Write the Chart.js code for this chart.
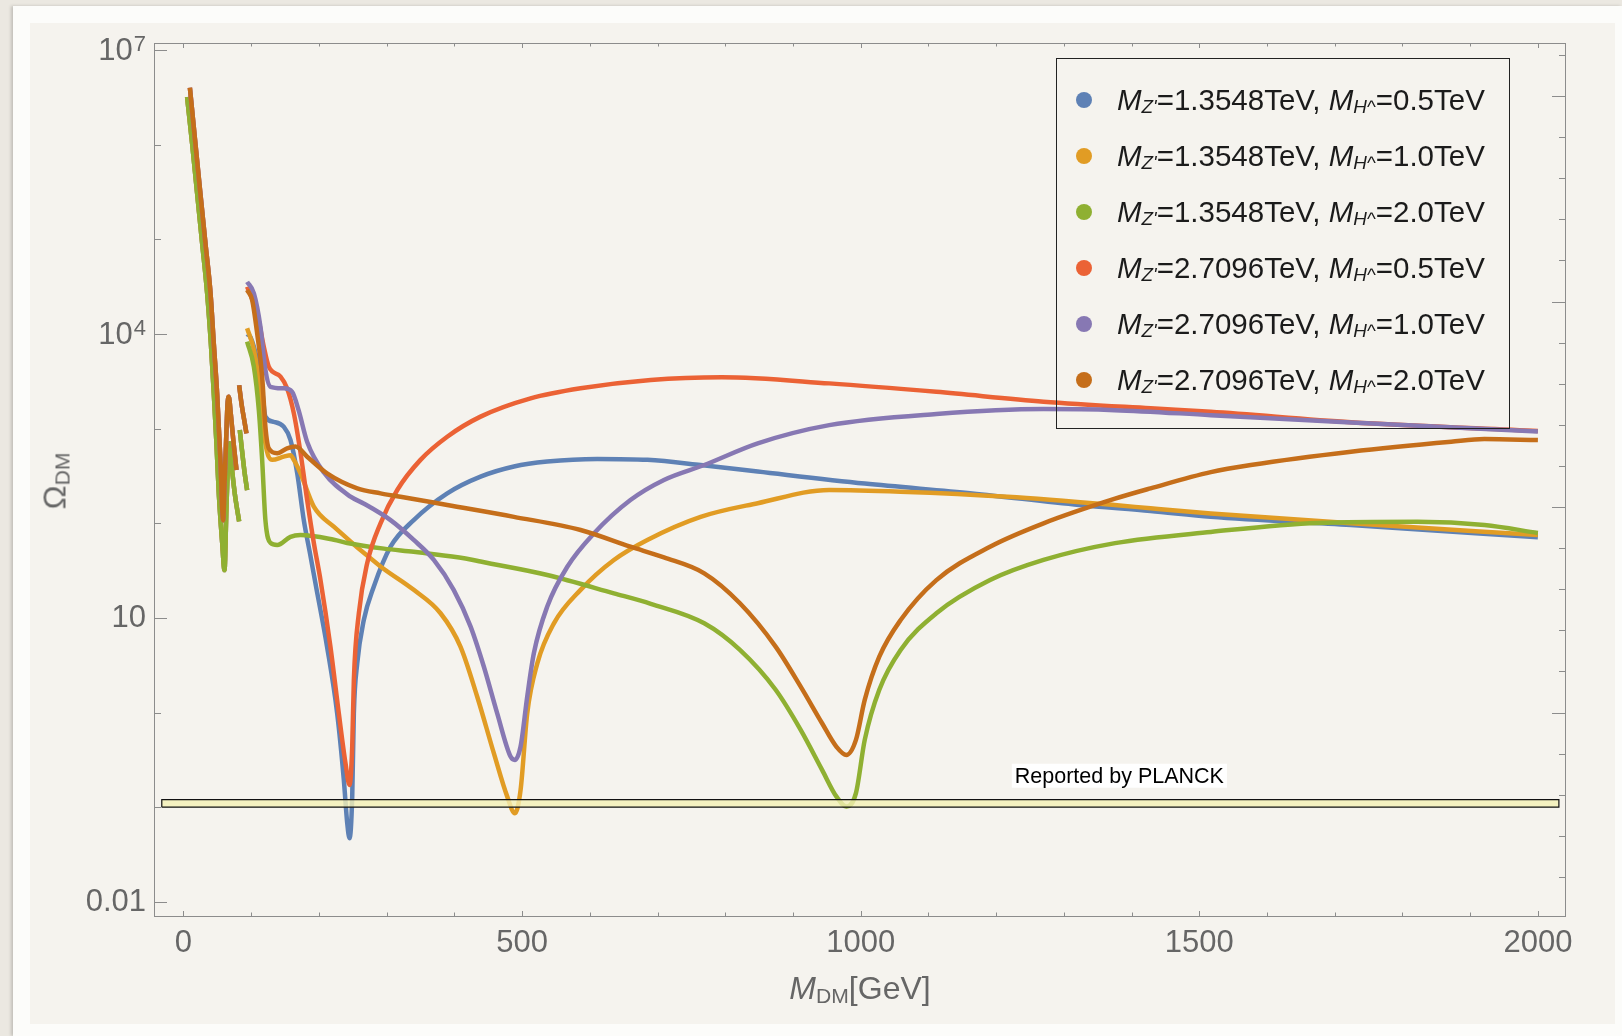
<!DOCTYPE html>
<html lang="en">
<head>
  <meta charset="UTF-8" />
  <title>Relic density vs dark matter mass</title>
  <script src="https://cdn.jsdelivr.net/npm/chart.js"></script>
  <style>
    html, body { margin: 0; padding: 0; }
    body {
      width: 1622px;
      height: 1036px;
      position: relative;
      overflow: hidden;
      background: #ebe8e1;
      font-family: "Liberation Sans", Arial, sans-serif;
    }
    .sheet {
      position: absolute;
      left: 13px; top: 6px; right: 0; bottom: 0;
      background: #fcfcfa;
      box-shadow: -2px 0 3px rgba(0,0,0,0.18);
    }
    .panel {
      position: absolute;
      left: 30px; top: 23px;
      width: 1585px; height: 1001px;
      background: #f5f3ee;
    }
    #chart { position: absolute; left: 0; top: 0; }
    .sb { font-size: 0.66em; position: relative; top: 0.18em; }
    .xtitle {
      position: absolute;
      left: 710px; width: 300px; top: 970px;
      text-align: center;
      color: #666;
      font-size: 32px;
      white-space: nowrap;
    }
    .ytitle {
      position: absolute;
      left: 55px; top: 481px;
      transform: translate(-50%, -50%) rotate(-90deg);
      color: #666;
      font-size: 32px;
      white-space: nowrap;
    }
    #legend {
      position: absolute;
      left: 1056px; top: 58px;
      width: 454px; height: 371px;
      box-sizing: border-box;
      border: 1px solid #222;
    }
    #legend .row { position: absolute; left: 0; height: 56px; width: 100%; }
    #legend .dot {
      position: absolute; left: 19px; top: 20px;
      width: 16px; height: 16px; border-radius: 50%;
    }
    #legend .txt {
      position: absolute; left: 60px; top: 0;
      line-height: 56px;
      font-size: 29.5px;
      color: #1b1b1b;
      white-space: nowrap;
    }
    #legend .txt .sb { font-size: 0.64em; top: 0.16em; }
  </style>
</head>
<body>
  <div class="sheet"></div>
  <div class="panel"></div>
  <canvas id="chart" width="1622" height="1036"></canvas>
  <div class="ytitle">Ω<span class="sb">DM</span></div>
  <div class="xtitle"><i>M</i><span class="sb">DM</span>[GeV]</div>
  <div id="legend"></div>

  <script>
    // legend parameters (Z' mass, H^ mass in TeV)
    const mzValues = ['1.3548', '1.3548', '1.3548', '2.7096', '2.7096', '2.7096'];
    const mhValues = ['0.5', '1.0', '2.0', '0.5', '1.0', '2.0'];
    const colors = ['#5e81b5', '#e19c24', '#8fb032', '#eb6235', '#8778b3', '#c56e1a'];

    // low-mass part, shared by the lighter Z' curves (drawn under the green one)
    const lowLight = [
      [5.4, 3.2e6], [12.8, 1.03e6], [20.2, 3.06e5], [27.6, 9.1e4], [35, 2.69e4], [40.5, 7.9e3],
      [44.8, 2360], [48.7, 700], [52.2, 207], [57.2, 62], [60.6, 32], [63.5, 150], [66, 450],
      [68.4, 700], [72, 355], [76, 200], [82.2, 105], [82.7, null],
      [83.2, 968], [86, 630], [90, 355], [94, 224], [94.2, null]
    ];
    // low-mass part, shared by the heavier Z' curves (drawn under the brown one)
    const lowHeavy = [
      [9.5, 4.0e6], [15.2, 1.55e6], [25, 3.06e5], [32.5, 9.08e4], [40, 2.69e4], [44.8, 7.9e3],
      [49.7, 2360], [54.6, 468], [58.6, 108], [60.5, 250], [63.2, 830], [65, 1780], [66.9, 2170],
      [70, 1410], [74, 708], [78.3, 366], [80, null],
      [82.2, 2880], [86, 1780], [89.5, 1260], [93, 891], [93.5, null]
    ];

    const blue = [
      [94, 1.0e4], [99, 9250], [108.8, 5300], [116.2, 2560], [121, 1340], [133.4, 1180], [148, 1050],
      [158, 760], [168, 337], [177.7, 108], [187.6, 45], [195, 23], [212, 4.98], [227, 0.98],
      [236.8, 0.195], [241.8, 0.068], [245.2, 0.047], [249.2, 0.13], [251.6, 0.98], [256.6, 3.31],
      [266.3, 9.5], [281, 21.4], [305.8, 56.6], [340, 108], [389.5, 207], [438.7, 311], [488, 398],
      [537.2, 449], [611, 479], [685, 468], [763.7, 413], [848, 352], [1006, 263], [1164.6, 207],
      [1322.9, 156], [1428, 135], [1517, 117], [1724, 96], [2000, 71]
    ];
    const orange = [
      [94, 1.15e4], [104, 6800], [113.7, 2360], [121, 700], [131, 468], [148, 506], [158, 525],
      [163, 468], [172.8, 337], [192.5, 150], [222, 92], [291, 35],
      [340, 19.8], [379.6, 11.2], [409, 4.98], [433.8, 1.47], [458.4, 0.37], [478, 0.13],
      [489.4, 0.0865], [497.8, 0.152], [507.6, 0.98], [522.5, 3.31], [547, 8.77], [586.4, 19.8],
      [635.6, 41], [685, 66.7], [763.7, 117], [848, 163], [953.6, 225], [1059, 216], [1217, 191],
      [1375, 156], [1428, 144], [1517, 127], [1724, 100], [2000, 75]
    ];
    const green = [
      [94, 8300], [104, 4500], [111.3, 1570], [116.2, 468], [121, 108], [128.5, 62], [138.4, 59],
      [158, 72], [172.8, 75], [222, 67], [241.8, 62], [296, 54], [340, 50], [369.7, 47], [424, 41.5],
      [438.7, 39.4], [537.2, 28.4], [635.6, 18.2], [690, 14.1], [769, 8.77],
      [821.7, 4.59], [874.4, 1.74], [911.4, 0.656], [943, 0.248], [964, 0.13], [978.9, 0.1016],
      [993, 0.141], [1006, 0.514], [1027.5, 1.74], [1059, 4.59], [1111.8, 11.2], [1191, 25.1],
      [1270, 41], [1375.6, 61.7], [1517, 81], [1675, 101], [1822, 104], [1921, 96], [2000, 79]
    ];
    const red = [
      [94, 3.16e4], [108.8, 1.66e4], [118.6, 7350], [126, 4520], [143.3, 3550], [153, 2670],
      [163, 1450], [172.8, 560], [182.7, 176], [192.5, 62], [202.4, 25], [217, 4.98], [229.4, 0.98],
      [239.3, 0.29], [245.2, 0.172], [249.2, 0.437], [251.6, 2.21], [259, 11.2], [271.3, 37.8],
      [291, 100], [315.7, 225], [350, 468], [389.5, 822], [438.7, 1340], [512.6, 2090], [586.4, 2670],
      [690, 3270], [795, 3490], [953.6, 3010], [1111.8, 2450], [1270, 1930], [1428, 1640],
      [1517, 1510], [1724, 1170], [2000, 944]
    ];
    const purple = [
      [94, 3.56e4], [104, 2.69e4], [113.7, 1.19e4], [121, 4170], [128.5, 2770], [148, 2670],
      [160.5, 2450], [170, 1570], [182.7, 724], [207, 347], [246.7, 191], [266, 162], [305.8, 108],
      [340, 66.7], [369.7, 41], [399, 19.8], [424, 8.1], [443.6, 3.05], [463.3, 0.98], [483, 0.343],
      [489.4, 0.316], [497.8, 0.437], [507.6, 1.47], [517.4, 4.23], [537.2, 13.2], [566.8, 34.7],
      [606, 78], [660, 176], [709.5, 287], [769, 413], [848, 700], [953.6, 1090], [1111.8, 1430],
      [1270, 1610], [1375, 1570], [1517, 1390], [1724, 1160], [2000, 933]
    ];
    const brown = [
      [94, 2.92e4], [101.4, 2.29e4], [108.8, 1.02e4], [116.2, 3540], [121, 1050], [126, 619],
      [138.4, 550], [153, 619], [165.4, 646], [182.7, 506], [212, 337], [256.6, 234], [291, 207],
      [320.5, 191], [389.5, 156], [488, 117], [586.4, 85], [660, 56.6], [709.5, 43.6], [769, 29.6],
      [821.7, 14.3], [874.4, 4.98], [911.4, 1.88], [943, 0.771], [964, 0.437], [978.9, 0.356],
      [993, 0.514], [1006, 1.36], [1027.5, 3.89], [1059, 9.5], [1111.8, 25.1], [1191, 56.6],
      [1270, 100], [1375.6, 182], [1428, 234], [1517, 347], [1576, 413], [1724, 571], [1872, 728],
      [1921, 776], [2000, 759]
    ];

    // Planck band and its label
    const planckX = [-32, 2031];
    const planckY = [0.1, 0.12];
    const planckText = 'Reported by PLANCK';
    const planckAt = [1382, 0.215];

    // axes
    const xRange = [-43.5, 2041.5];
    const yRange = [7.08e-3, 1.19e7];
    const xLabels = [0, 500, 1000, 1500, 2000];
    const xMinor = [0, 100, 200, 300, 400, 500, 600, 700, 800, 900, 1000, 1100, 1200, 1300, 1400,
                    1500, 1600, 1700, 1800, 1900, 2000];
    const yLabels = [0.01, 10, 1e4, 1e7];
    const yLabelBase = ['0.01', '10', '10', '10'];
    const yLabelExp = ['', '', '4', '7'];
    const yMinor = [0.1, 1, 100, 1000, 1e5, 1e6];
    const rightTicksLn = [-4, -3, -2, -1, 0, 1, 2, 3, 4, 5, 6, 7, 8, 9, 10, 11, 12, 13, 14, 15, 16];

    const axisColor = '#8c8c8c';
    const labelColor = '#666';
    const fontFamily = '"Liberation Sans", Arial, sans-serif';

    const series = [
      lowLight.concat(blue), lowLight.concat(orange), lowLight.concat(green),
      lowHeavy.concat(red), lowHeavy.concat(purple), lowHeavy.concat(brown)
    ];

    // legend with subscripts, built from the parameter arrays
    const legend = document.getElementById('legend');
    mzValues.forEach((mz, i) => {
      const row = document.createElement('div');
      row.className = 'row';
      row.style.top = (13 + 56 * i) + 'px';
      row.innerHTML = `<span class="dot" style="background:${colors[i]}"></span>` +
        `<span class="txt"><i>M</i><span class="sb"><i>Z'</i></span>=${mz}TeV, ` +
        `<i>M</i><span class="sb"><i>H</i>^</span>=${mhValues[i]}TeV</span>`;
      legend.appendChild(row);
    });

    // inward frame ticks on all four sides, y labels with exponents, Planck label
    const framePlugin = {
      id: 'frameTicks',
      afterDatasetsDraw(chart) {
        const { ctx, chartArea: a, scales: { x, y } } = chart;
        const seg = (x1, y1, x2, y2) => { ctx.beginPath(); ctx.moveTo(x1, y1); ctx.lineTo(x2, y2); ctx.stroke(); };
        ctx.save();

        // planck label
        ctx.font = '21.5px ' + fontFamily;
        const w = ctx.measureText(planckText).width;
        const lx = x.getPixelForValue(planckAt[0]);
        const ly = y.getPixelForValue(planckAt[1]);
        ctx.fillStyle = '#ffffff';
        ctx.fillRect(lx - w / 2 - 3, ly - 12, w + 6, 24);
        ctx.fillStyle = '#000';
        ctx.textAlign = 'center';
        ctx.textBaseline = 'middle';
        ctx.fillText(planckText, lx, ly + 1);

        // y tick labels
        ctx.fillStyle = labelColor;
        ctx.textAlign = 'right';
        const rightEdge = a.left - 8;
        yLabels.forEach((v, i) => {
          const py = y.getPixelForValue(v);
          let edge = rightEdge;
          if (yLabelExp[i]) {
            ctx.font = '22px ' + fontFamily;
            ctx.textBaseline = 'alphabetic';
            ctx.fillText(yLabelExp[i], edge, py + 1);
            edge -= ctx.measureText(yLabelExp[i]).width + 1;
          }
          ctx.font = '31px ' + fontFamily;
          ctx.textBaseline = 'middle';
          ctx.fillText(yLabelBase[i], edge, py + 1);
        });

        ctx.strokeStyle = axisColor;
        ctx.lineWidth = 1;
        xMinor.forEach(v => {
          const px = Math.round(x.getPixelForValue(v)) + 0.5;
          const len = xLabels.includes(v) ? 5 : 3.5;
          seg(px, a.bottom, px, a.bottom - len);
          seg(px, a.top, px, a.top + len);
        });
        yLabels.forEach(v => {
          const py = Math.round(y.getPixelForValue(v)) + 0.5;
          seg(a.left, py, a.left + 13, py);
        });
        yMinor.forEach(v => {
          const py = Math.round(y.getPixelForValue(v)) + 0.5;
          seg(a.left, py, a.left + 7, py);
        });
        rightTicksLn.forEach(k => {
          const py = Math.round(y.getPixelForValue(Math.exp(k))) + 0.5;
          seg(a.right, py, a.right - (k % 5 === 0 ? 14 : 7), py);
        });
        ctx.strokeRect(Math.round(a.left) + 0.5, Math.round(a.top) + 0.5,
                       Math.round(a.right - a.left) - 1, Math.round(a.bottom - a.top));
        ctx.restore();
      }
    };

    Chart.defaults.font.family = fontFamily;

    const datasets = series.map((d, i) => ({
      label: `MZ'=${mzValues[i]}TeV, MH^=${mhValues[i]}TeV`,
      data: d,
      borderColor: colors[i],
      backgroundColor: colors[i],
      borderWidth: 4.5,
      pointRadius: 0,
      showLine: true,
      cubicInterpolationMode: 'monotone',
      order: 6 - i
    }));

    datasets.push({
      label: 'Planck',
      data: [[planckX[0], planckY[0]], [planckX[1], planckY[0]], [planckX[1], planckY[1]],
             [planckX[0], planckY[1]], [planckX[0], planckY[0]]],
      borderColor: '#111',
      borderWidth: 1.2,
      backgroundColor: 'rgba(244, 240, 180, 0.8)',
      fill: 'shape',
      pointRadius: 0,
      showLine: true,
      tension: 0,
      order: 0
    });

    new Chart(document.getElementById('chart').getContext('2d'), {
      type: 'scatter',
      data: { datasets },
      options: {
        responsive: false,
        animation: false,
        devicePixelRatio: 1,
        layout: { padding: { top: 43, right: 56, left: 0, bottom: 0 } },
        plugins: { legend: { display: false }, tooltip: { enabled: false } },
        scales: {
          x: {
            type: 'linear',
            min: xRange[0], max: xRange[1],
            grid: { display: false, drawTicks: false },
            border: { display: false },
            afterFit: s => { s.height = 120; },
            afterBuildTicks: s => { s.ticks = xLabels.map(v => ({ value: v })); },
            ticks: {
              color: labelColor, font: { size: 31 }, padding: 9, maxRotation: 0, autoSkip: false,
              callback: v => String(v)
            }
          },
          y: {
            type: 'logarithmic',
            min: yRange[0], max: yRange[1],
            grid: { display: false, drawTicks: false },
            border: { display: false },
            afterFit: s => { s.width = 154; },
            afterBuildTicks: s => { s.ticks = yLabels.map(v => ({ value: v })); },
            ticks: { display: false }
          }
        }
      },
      plugins: [framePlugin]
    });
  </script>
</body>
</html>
